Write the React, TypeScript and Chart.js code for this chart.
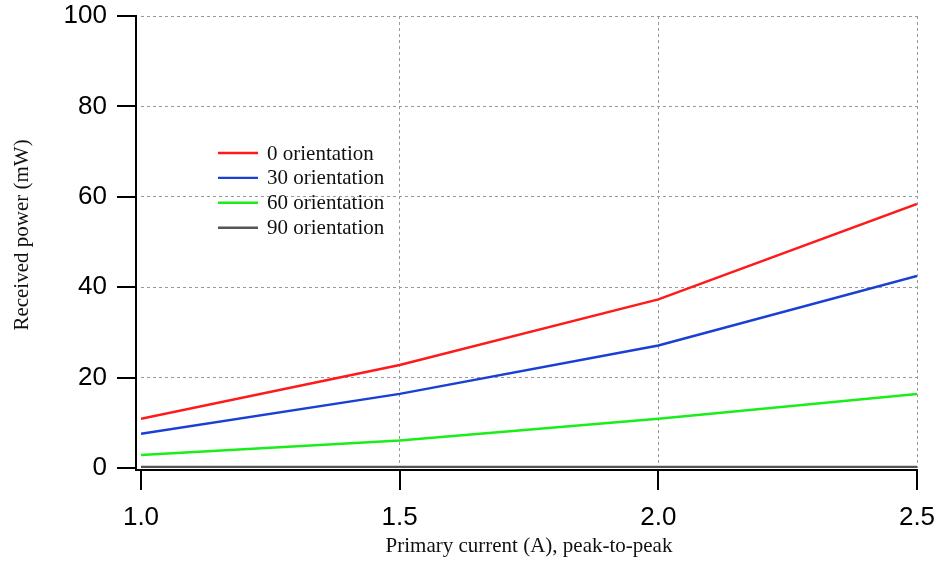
import React, { useEffect, useRef } from "react";
import { Chart, registerables } from "chart.js";

Chart.register(...registerables);

const xValues = [1.0, 1.5, 2.0, 2.5];
const seriesLabels = ["0 orientation", "30 orientation", "60 orientation", "90 orientation"];
const series0 = [10.9, 22.8, 37.3, 58.4];
const series30 = [7.6, 16.4, 27.1, 42.5];
const series60 = [2.9, 6.1, 10.9, 16.4];
const series90 = [0.2, 0.2, 0.2, 0.2];
const seriesColors = ["#ff1a1a", "#1a3fd4", "#1aee1a", "#555555"];
const xTitle = "Primary current (A), peak-to-peak";
const yTitle = "Received power (mW)";

const axesPlugin = {
  id: "customAxes",
  afterDatasetsDraw(chart: any) {
    const { ctx, chartArea } = chart;
    const x = chart.scales.x;
    const y = chart.scales.y;
    const ax = chartArea.left - 5;
    const ay = chartArea.bottom + 2;
    ctx.save();
    ctx.strokeStyle = "#000";
    ctx.lineWidth = 2;
    ctx.beginPath();
    ctx.moveTo(ax, chartArea.top - 1);
    ctx.lineTo(ax, ay + 1);
    ctx.moveTo(ax - 1, ay);
    ctx.lineTo(chartArea.right + 1, ay);
    y.ticks.forEach((t: any) => {
      const py = Math.round(y.getPixelForValue(t.value));
      ctx.moveTo(ax - 19, py);
      ctx.lineTo(ax, py);
    });
    x.ticks.forEach((t: any) => {
      const px = Math.round(x.getPixelForValue(t.value));
      ctx.moveTo(px, ay);
      ctx.lineTo(px, ay + 20);
    });
    ctx.stroke();
    // y axis title
    ctx.translate(22, 235);
    ctx.rotate(-Math.PI / 2);
    ctx.font = "21px 'Liberation Serif', 'Times New Roman', serif";
    ctx.fillStyle = "#111";
    ctx.textAlign = "center";
    ctx.textBaseline = "middle";
    ctx.fillText(yTitle, 0, 0);
    ctx.restore();
  },
};

const legendPlugin = {
  id: "innerLegend",
  afterDatasetsDraw(chart: any) {
    const { ctx } = chart;
    const x0 = 218;
    const y0 = 153;
    const rowH = 24.9;
    ctx.save();
    ctx.font = "21px 'Liberation Serif', serif";
    ctx.textBaseline = "middle";
    ctx.textAlign = "left";
    chart.data.datasets.forEach((ds: any, i: number) => {
      const yy = y0 + i * rowH;
      ctx.strokeStyle = ds.borderColor;
      ctx.lineWidth = 2.4;
      ctx.beginPath();
      ctx.moveTo(x0, yy);
      ctx.lineTo(x0 + 40, yy);
      ctx.stroke();
      ctx.fillStyle = "#111";
      ctx.fillText(ds.label, x0 + 49, yy + 1);
    });
    ctx.restore();
  },
};

export default function App() {
  const ref = useRef<HTMLCanvasElement | null>(null);
  useEffect(() => {
    if (!ref.current) return;
    const seriesValues = [series0, series30, series60, series90];
    const chart = new Chart(ref.current, {
      type: "line",
      data: {
        datasets: seriesValues.map((vals, i) => ({
          label: seriesLabels[i],
          data: vals.map((v, j) => ({ x: xValues[j], y: v })),
          borderColor: seriesColors[i],
          backgroundColor: seriesColors[i],
          borderWidth: i === 3 ? 2.6 : 2.5,
          pointRadius: 0,
          tension: 0,
          fill: false,
        })),
      },
      options: {
        responsive: false,
        animation: false,
        devicePixelRatio: 1,
        layout: { padding: { left: 0, right: 20, top: 16, bottom: 0 } },
        plugins: { legend: { display: false }, tooltip: { enabled: false } },
        scales: {
          x: {
            type: "linear",
            min: 1,
            max: 2.5,
            afterFit: (s: any) => {
              s.height = 95;
              s.paddingLeft = 0;
              s.paddingRight = 0;
            },
            ticks: {
              stepSize: 0.5,
              padding: 34,
              color: "#000",
              font: { family: "'Liberation Sans', Arial, sans-serif", size: 26 },
              callback: (v: any) => Number(v).toFixed(1),
              maxRotation: 0,
            },
            grid: {
              drawTicks: false,
              color: (c: any) => (c.tick && c.tick.value === 1 ? "rgba(0,0,0,0)" : "#999"),
              lineWidth: 1,
            },
            border: { display: false, dash: [3, 3] },
            title: {
              display: true,
              text: xTitle,
              color: "#111",
              font: { family: "'Liberation Serif', 'Times New Roman', serif", size: 21 },
              padding: { top: 4, bottom: 4 },
            },
          },
          y: {
            type: "linear",
            min: 0,
            max: 100,
            afterFit: (s: any) => {
              s.width = 141;
              s.paddingTop = 0;
              s.paddingBottom = 0;
            },
            ticks: {
              stepSize: 20,
              padding: 34,
              color: "#000",
              font: { family: "'Liberation Sans', Arial, sans-serif", size: 26 },
            },
            grid: {
              drawTicks: false,
              color: (c: any) => (c.tick && c.tick.value === 0 ? "rgba(0,0,0,0)" : "#999"),
              lineWidth: 1,
            },
            border: { display: false, dash: [3, 3] },
            title: { display: false, text: yTitle },
          },
        },
      },
      plugins: [axesPlugin, legendPlugin],
    });
    return () => chart.destroy();
  }, []);
  return (
    <div style={{ position: "absolute", left: 0, top: 0, width: 937, height: 563, background: "#fff" }}>
      <canvas ref={ref} width={937} height={563} />
    </div>
  );
}
